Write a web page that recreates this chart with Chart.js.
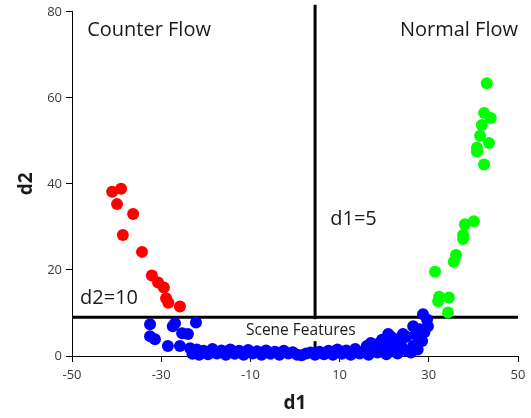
<!DOCTYPE html>
<html>
<head>
<meta charset="utf-8">
<script src="https://cdn.jsdelivr.net/npm/chart.js@4/dist/chart.umd.min.js"></script>
<style>
  html, body { margin: 0; padding: 0; background: #fff; }
  #wrap { width: 531px; height: 418px; }
</style>
</head>
<body>
<div id="wrap"><canvas id="flowChart"></canvas></div>
<script>
// counter flow points (d1, d2)
const counterD1 = [-41.0, -39.0, -39.9, -36.3, -38.6, -34.3, -32.1, -30.7, -29.4, -28.9, -28.4, -25.8];
const counterD2 = [38.2, 38.9, 35.3, 33.0, 28.1, 24.2, 18.7, 17.1, 15.9, 13.4, 12.4, 11.5];

// normal flow points
const normalD1 = [43.0, 42.4, 43.9, 41.9, 41.5, 43.5, 40.8, 40.8, 42.4, 40.1, 38.1, 37.7, 37.7, 36.1, 35.6, 31.4, 32.3, 34.5, 32.1, 34.3];
const normalD2 = [63.4, 56.5, 55.3, 53.7, 51.2, 49.5, 48.4, 47.5, 44.5, 31.3, 30.6, 28.1, 27.2, 23.5, 21.9, 19.6, 13.8, 13.6, 12.7, 10.1];

// scene features (below d2 threshold)
const sceneD1 = [
  -32.5, -26.9, -22.2, -32.5, -31.4, -28.5, -27.4, -25.3, -24.0, -25.8, -23.5,
  -23.0, -22.0, -21.5, -20.5, -19.5, -18.5, -17.5, -16.5, -15.5, -14.5, -13.5, -12.5,
  -11.5, -10.5, -9.5, -8.5, -7.5, -6.5, -5.5, -4.5, -3.5, -2.5, -1.5, -0.5, 0.5, 1.5,
  2.5, 3.5, 4.5, 5.5, 6.5, 7.5, 8.5, 9.5, 10.5, 11.5, 12.5, 13.5, 14.5, 15.5, 16.5,
  17.5, 18.5, 19.5, 20.5, 21.5, 23.0, 24.0, 26.0, 27.5,
  28.7, 29.6, 29.8, 28.0, 26.5, 24.2, 22.9, 20.9, 20.2, 18.6, 16.1, 28.5, 26.5, 25.1, 22.0,
  17.0, 19.5, 21.5, 23.5, 25.0, 27.0, 24.0, 27.5, 29.0
];
const sceneD2 = [
  7.4, 7.6, 7.8, 4.6, 3.9, 2.3, 6.9, 5.3, 5.1, 2.3, 1.8,
  0.5, 1.5, 0.3, 1.2, 0.4, 1.6, 0.6, 1.3, 0.3, 1.5, 0.5, 1.2,
  0.3, 1.4, 0.6, 1.1, 0.3, 1.3, 0.5, 1.0, 0.3, 1.2, 0.6, 0.9, 0.3, 0.2,
  0.6, 0.8, 0.3, 1.0, 0.4, 1.2, 0.3, 1.5, 0.5, 1.3, 0.3, 1.6, 0.6, 1.2, 0.3,
  1.8, 0.8, 1.5, 0.4, 2.0, 0.6, 1.8, 0.8, 1.5,
  9.7, 8.5, 6.9, 6.2, 6.9, 5.1, 3.9, 5.1, 3.5, 2.8, 2.3, 3.5, 2.3, 1.2, 1.2,
  3.0, 3.8, 4.5, 3.0, 4.5, 5.0, 2.0, 3.0, 5.5
];

const xTicks = [-50, -30, -10, 10, 30, 50];
const yTicks = [0, 20, 40, 60, 80];

// threshold lines
const d1Cut = 4.5;
const d2Cut = 9;

const FONT = "'Open Sans', 'Noto Sans', sans-serif";

const notes = [
  { text: 'Counter Flow', x: -46.6, y: 75.6, align: 'left', size: 20 },
  { text: 'Normal Flow', x: 50, y: 75.6, align: 'right', size: 20 },
  { text: 'd1=5', x: 7.9, y: 31.8, align: 'left', size: 20 },
  { text: 'd2=10', x: -48.2, y: 13.4, align: 'left', size: 20 },
  { text: 'Scene Features', x: 1.3, y: 6.0, align: 'center', size: 15.5, box: true }
];

function pts(xs, ys) {
  return xs.map((x, i) => ({ x: x, y: ys[i] }));
}

const thresholdPlugin = {
  id: 'thresholds',
  beforeDatasetsDraw(chart) {
    const { ctx, chartArea, scales } = chart;
    const xs = scales.x, ys = scales.y;
    ctx.save();
    ctx.strokeStyle = '#000';
    ctx.lineWidth = 3;
    ctx.beginPath();
    const vx = xs.getPixelForValue(d1Cut);
    ctx.moveTo(vx, chartArea.top - 7);
    ctx.lineTo(vx, chartArea.bottom);
    const hy = ys.getPixelForValue(d2Cut);
    ctx.moveTo(chartArea.left, hy);
    ctx.lineTo(chartArea.right, hy);
    ctx.stroke();

    ctx.textBaseline = 'middle';
    notes.forEach(n => {
      ctx.font = n.size + 'px ' + FONT;
      ctx.textAlign = n.align;
      const px = xs.getPixelForValue(n.x);
      const py = ys.getPixelForValue(n.y);
      if (n.box) {
        const w = ctx.measureText(n.text).width + 8;
        ctx.fillStyle = '#fff';
        ctx.fillRect(px - w / 2, py - 11, w, 22);
      }
      ctx.fillStyle = '#1a1a1a';
      ctx.fillText(n.text, px, py);
    });
    ctx.restore();
  }
};

const dot = { pointRadius: 6, pointHoverRadius: 6, borderWidth: 0, clip: false };

new Chart(document.getElementById('flowChart'), {
  type: 'scatter',
  data: {
    datasets: [
      Object.assign({ label: 'Scene Features', data: pts(sceneD1, sceneD2), backgroundColor: '#0000ff' }, dot),
      Object.assign({ label: 'Counter Flow', data: pts(counterD1, counterD2), backgroundColor: '#ff0000' }, dot),
      Object.assign({ label: 'Normal Flow', data: pts(normalD1, normalD2), backgroundColor: '#00ff00' }, dot)
    ]
  },
  options: {
    responsive: true,
    maintainAspectRatio: false,
    animation: false,
    layout: { padding: { top: 9, right: 13, left: 0, bottom: 0 } },
    plugins: { legend: { display: false }, tooltip: { enabled: false } },
    scales: {
      x: {
        type: 'linear',
        min: -50, max: 50,
        afterFit: s => { s.height = 62; },
        afterBuildTicks: s => { s.ticks = xTicks.map(v => ({ value: v })); },
        border: { color: '#000', width: 1 },
        grid: { drawOnChartArea: false, drawTicks: true, tickLength: 6, color: '#000' },
        ticks: { color: '#3a3a3a', font: { family: FONT, size: 13 }, padding: 5 },
        title: { display: true, text: 'd1', color: '#1a1a1a', font: { family: FONT, size: 19, weight: 'bold' }, padding: { top: 0, bottom: 3 } }
      },
      y: {
        type: 'linear',
        min: 0, max: 80,
        afterFit: s => { s.width = 72; },
        afterBuildTicks: s => { s.ticks = yTicks.map(v => ({ value: v })); },
        border: { color: '#000', width: 1 },
        grid: { drawOnChartArea: false, drawTicks: true, tickLength: 6, color: '#000' },
        ticks: { color: '#3a3a3a', font: { family: FONT, size: 13 }, padding: 4 },
        title: { display: true, text: 'd2', color: '#1a1a1a', font: { family: FONT, size: 19, weight: 'bold' }, padding: { top: 15, bottom: 0 } }
      }
    }
  },
  plugins: [thresholdPlugin]
});
</script>
</body>
</html>
